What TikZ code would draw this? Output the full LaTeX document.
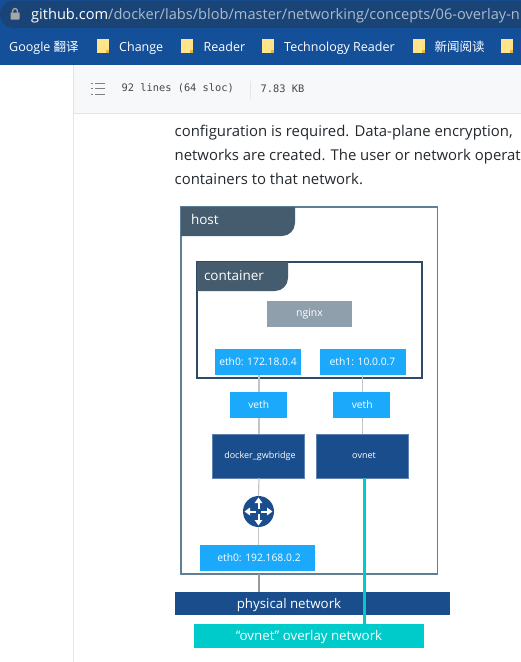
\documentclass[tikz,border=0pt]{standalone}
\usepackage{fontspec}
\setmainfont{Open Sans}
\setmonofont{DejaVu Sans Mono}
\newfontfamily\cjkfont{Noto Sans CJK SC}
\usepackage{xcolor}
\usetikzlibrary{arrows.meta,positioning}

\definecolor{barblue}{HTML}{14509A}
\definecolor{pilldark}{HTML}{1B4476}
\definecolor{urlgrey}{HTML}{A9BBD0}
\definecolor{folderyellow}{HTML}{FFE48A}
\definecolor{foldercorner}{HTML}{E8B83A}
\definecolor{panelgrey}{HTML}{F6F8FA}
\definecolor{panelline}{HTML}{E1E4E8}
\definecolor{bodytext}{HTML}{24292E}
\definecolor{hostline}{HTML}{5F7F95}
\definecolor{containerline}{HTML}{2F4A66}
\definecolor{tabslate}{HTML}{455B6E}
\definecolor{nginxgrey}{HTML}{8F9FAC}
\definecolor{ethblue}{HTML}{1BA9FB}
\definecolor{bridgeblue}{HTML}{1A4D8C}
\definecolor{overlayteal}{HTML}{00CBCB}
\definecolor{wiregrey}{HTML}{C4C4C4}

\begin{document}
\begin{tikzpicture}[
    x=1pt, y=-1pt,
    plainbox/.style={inner sep=0pt, outer sep=0pt, align=center, text=white},
    ethbox/.style={plainbox, fill=ethblue, font=\fontsize{10.3}{12}\selectfont,
                   minimum width=86pt, minimum height=26pt},
    vethbox/.style={ethbox, minimum width=57pt},
    bridgebox/.style={plainbox, fill=bridgeblue, draw=bridgeblue!70!white,
                      font=\fontsize{9}{11}\selectfont,
                      minimum width=92pt, minimum height=44.5pt},
    netbox/.style={plainbox, text height=11pt, text depth=1pt, font=\fontsize{13.3}{15}\selectfont},
    framebox/.style={draw, inner sep=0pt, outer sep=0pt, line width=1.4pt},
    tablabel/.style={plainbox, anchor=west, font=\fontsize{13.5}{15}\selectfont},
    barlabel/.style={inner sep=0pt, anchor=base west, text=white, font=\fontsize{12.5}{15}\selectfont},
    bodyline/.style={inner sep=0pt, anchor=base west, text=bodytext, font=\fontsize{14.9}{18}\selectfont},
    monolabel/.style={inner sep=0pt, anchor=west, text=bodytext!85!white, font=\ttfamily\fontsize{10.35}{12}\selectfont},
    folder/.style={fill=folderyellow, minimum width=12pt, minimum height=13.5pt, inner sep=0pt,
                   path picture={\fill[foldercorner] ([xshift=-3pt,yshift=3pt]path picture bounding box.south east)
                                 rectangle (path picture bounding box.south east);}},
    wire/.style={wiregrey, line width=1.2pt},
    routerarrow/.style={white, line width=2pt, -{Triangle[width=7.5pt,length=5.5pt]}},
  ]

  \useasboundingbox (0,0) rectangle (521,662);
  \clip (0,0) rectangle (521,662);
  \fill[white] (0,0) rectangle (521,662);

  % browser bars
  \fill[barblue] (0,0) rectangle (521,65);
  \fill[pilldark, rounded corners=13pt] (0,0.5) rectangle (560,28);
  \fill[gray!70!white, rounded corners=0.7pt] (10.5,12.5) rectangle (19.5,19.5);
  \draw[gray!70!white, line width=1.3pt] (12.5,13) -- (12.5,11.5) .. controls (12.5,7.5) and (17.5,7.5) .. (17.5,11.5) -- (17.5,13);
  \node[barlabel, font=\fontsize{14.6}{17}\selectfont] (url) at (31,19)
      {github.com\textcolor{urlgrey}{/docker/labs/blob/master/networking/concepts/06-overlay-n}};

  % bookmarks
  \node[barlabel] (bmgoogle) at (9,51) {Google {\cjkfont 翻译}};
  \node[folder] (foldera) at (103,46) {};
  \node[barlabel] (bmchange) at (119,51) {Change};
  \node[folder] (folderb) at (187,46) {};
  \node[barlabel] (bmreader) at (203.5,51) {Reader};
  \node[folder] (folderc) at (268,46) {};
  \node[barlabel] (bmtech) at (284,51) {Technology Reader};
  \node[folder] (folderd) at (419,46) {};
  \node[barlabel] (bmnews) at (434.5,51) {{\cjkfont 新闻阅读}};
  \node[folder] (foldere) at (507,46) {};

  % file header
  \fill[panelgrey] (73,65) rectangle (521,113);
  \draw[panelline] (73,65) -- (73,662);
  \draw[panelline] (73,113.5) -- (521,113.5);
  \draw[panelline] (250.5,81) -- (250.5,99);
  \foreach \rowy in {83.5,88.5,94}{
    \draw[gray, line width=1pt] (91,\rowy) -- (92.5,\rowy);
    \draw[gray, line width=1pt] (95,\rowy) -- (105,\rowy);
  }
  \node[monolabel] (lines) at (121.5,88.5) {92 lines (64 sloc)};
  \node[monolabel] (size) at (260.5,88.5) {7.83 KB};

  \node[bodyline] (texta) at (174.5,136) {configuration is required. Data-plane encryption,};
  \node[bodyline] (textb) at (174.5,160) {networks are created. The user or network operat};
  \node[bodyline] (textc) at (174.5,184) {containers to that network.};

  % host
  \node[framebox, draw=hostline, fill=white, minimum width=256.5pt, minimum height=367pt] (host) at (309.25,390.5) {};
  \fill[tabslate] (181,207) -- (295,207) [rounded corners=13pt] -- (295,236) [sharp corners] -- (181,236) -- cycle;
  \node[tablabel] (hostlabel) at (191,219.5) {host};

  % container
  \node[framebox, draw=containerline, minimum width=225pt, minimum height=116pt] (container) at (309.5,320) {};
  \fill[tabslate] (197,262) -- (288,262) [rounded corners=13pt] -- (288,291) [sharp corners] -- (197,291) -- cycle;
  \node[tablabel] (containerlabel) at (204,275.5) {container};

  \node[plainbox, fill=nginxgrey, minimum width=85pt, minimum height=26pt,
        font=\fontsize{10.5}{12}\selectfont] (nginx) at (309.5,314) {nginx};
  \node[ethbox] (ethzero) at (258,362) {eth0: 172.18.0.4};
  \node[ethbox] (ethone) at (362.5,362) {eth1: 10.0.0.7};
  \node[vethbox] (vetha) at (258,405) {\hspace*{1.5pt}veth};
  \node[vethbox] (vethb) at (361.5,405) {\hspace*{1.5pt}veth};
  \node[bridgebox] (gwbridge) at (258,456) {\hspace*{4pt}docker\_gwbridge};
  \node[bridgebox] (ovnet) at (362,456) {\hspace*{4pt}ovnet};

  % router
  \node[circle, fill=bridgeblue, minimum size=31pt, inner sep=0pt, outer sep=0pt] (router) at (258.5,511.5) {};
  \draw[routerarrow] (router.center) ++(0,-2) -- ++(0,-12);
  \draw[routerarrow] (router.center) ++(0,2) -- ++(0,12);
  \draw[routerarrow] (router.center) ++(-2,0) -- ++(-12,0);
  \draw[routerarrow] (router.center) ++(2,0) -- ++(12,0);
  \fill[bridgeblue] (router.center) ++(-2.5,-2.5) rectangle ++(5,5);

  \node[ethbox, minimum width=115pt] (ethlan) at (257.5,558) {\hspace*{3pt}eth0: 192.168.0.2};

  \node[netbox, fill=bridgeblue, minimum width=275pt, minimum height=23.5pt] (physical) at (312.5,603.5) {physical network\hspace*{47pt}};
  \node[netbox, fill=overlayteal, minimum width=230pt, minimum height=24pt, text height=10pt] (overlay) at (309,636) {“ovnet” overlay network};

  % links
  \draw[wire] ([xshift=1pt]ethzero.south) -- ([xshift=1pt]vetha.north);
  \draw[wire] ([xshift=1pt]vetha.south) -- ([xshift=1pt]gwbridge.north);
  \draw[wire] (ethone.south) -- ([xshift=1pt]vethb.north);
  \draw[wire] ([xshift=1pt]vethb.south) -- ([xshift=.5pt]ovnet.north);
  \draw[wire] ([xshift=1pt]gwbridge.south) -- (router.north);
  \draw[wire] (router.south) -- ([xshift=1pt]ethlan.north);
  \draw[wire, gray!80!white, line width=2pt] ([xshift=1.5pt]ethlan.south |- host.south) -- ([xshift=1.5pt]ethlan.south |- physical.north);
  \draw[overlayteal, line width=3pt] ([xshift=2pt]ovnet.south) -- ([xshift=2pt]ovnet.south |- overlay.north);

\end{tikzpicture}
\end{document}
